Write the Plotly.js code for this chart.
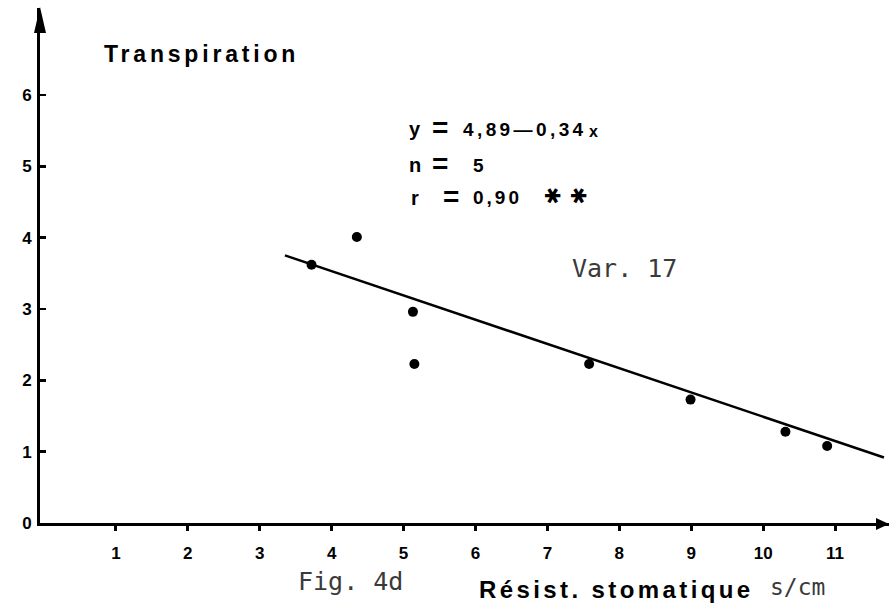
<!DOCTYPE html>
<html>
<head>
<meta charset="utf-8">
<script src="https://cdn.plot.ly/plotly-3.0.1.min.js"></script>
<style>
  html, body { margin: 0; padding: 0; background: #fff; }
  #chart { width: 889px; height: 606px; }
</style>
</head>
<body>
<div id="chart"></div>
<script>
// Transpiration vs stomatal resistance, variety 17 (Fig. 4d)
const resistance    = [3.72, 4.35, 5.13, 5.15, 7.58, 8.99, 10.31, 10.89];
const transpiration = [3.62, 4.01, 2.96, 2.23, 2.23, 1.73, 1.28, 1.08];

// Regression y = 4,89 - 0,34 x, drawn over this span of x
const fitIntercept = 4.89;
const fitSlope = -0.34;
const fitSpan = [3.35, 11.68];

const xTickVals = [1, 2, 3, 4, 5, 6, 7, 8, 9, 10, 11];
const xTickText = ['1', '2', '3', '4', '5', '6', '7', '8', '9', '10', '11'];
const yTickVals = [0, 1, 2, 3, 4, 5, 6];
const yTickText = ['0', '1', '2', '3', '4', '5', '6'];

const fitX = fitSpan.slice();
const fitY = fitX.map(x => fitIntercept + fitSlope * x);

// plot box geometry (pixels)
const W = 889, H = 606;
const M = { l: 40, r: 0, t: 8, b: 83 };
const PW = W - M.l - M.r, PH = H - M.t - M.b;
const px = x => (x - M.l) / PW;           // pixel -> paper x
const py = y => (H - M.b - y) / PH;       // pixel -> paper y

const BOLD = 'Liberation Sans, Arial, sans-serif';
const MONO = 'DejaVu Sans Mono, monospace';
const GREY = '#3a3a3a';

function label(text, left, cy, size, family, extra) {
  return Object.assign({
    text: text, xref: 'paper', yref: 'paper', x: px(left), y: py(cy),
    xanchor: 'left', yanchor: 'middle', showarrow: false,
    font: { family: family, size: size, color: family === MONO ? GREY : '#000',
            weight: family === BOLD ? 'bold' : 'normal' }
  }, extra || {});
}
const sp = (s, ls) => '<span style="letter-spacing:' + ls + 'px">' + s + '</span>';

const annotations = [
  label(sp('Transpiration', 3.8), 102, 54, 23, BOLD),
  // regression statistics
  label('y', 407, 129, 20, BOLD),
  label('=', 430, 127, 28, BOLD),
  label(sp('4,89—0,34', 3.4), 461, 129, 19, BOLD),
  label('x', 587, 131, 16, BOLD),
  label('n', 407, 165, 20, BOLD),
  label('=', 430, 163, 28, BOLD),
  label('5', 471, 165, 19, BOLD),
  label('r', 409, 198, 20, BOLD),
  label('=', 441, 196, 28, BOLD),
  label(sp('0,90', 3), 471, 198, 19, BOLD),
  label('✱', 538, 196, 21, 'DejaVu Sans', { textangle: 90 }),
  label('✱', 564, 196, 21, 'DejaVu Sans', { textangle: 90 }),
  label('Var. 17', 570, 268, 25, MONO),
  label('Fig. 4d', 296, 581, 25, MONO),
  label(sp('Résist. stomatique', 3.4), 477, 589, 24, BOLD),
  label('s/cm', 768, 587, 23, MONO)
];

// arrow heads at the ends of both axes
const shapes = [
  { type: 'path', xref: 'paper', yref: 'paper',
    path: `M${px(40)},${py(7)} L${px(34)},${py(33)} L${px(46)},${py(33)} Z`,
    fillcolor: '#000', line: { width: 0 } },
  { type: 'path', xref: 'paper', yref: 'paper',
    path: `M${px(889)},${py(524)} L${px(876)},${py(518)} L${px(876)},${py(530)} Z`,
    fillcolor: '#000', line: { width: 0 } }
];

const traces = [
  { x: fitX, y: fitY, type: 'scatter', mode: 'lines',
    line: { color: '#000', width: 2.5 }, hoverinfo: 'skip', cliponaxis: false },
  { x: resistance, y: transpiration, type: 'scatter', mode: 'markers',
    marker: { color: '#000', size: 10 }, cliponaxis: false }
];

const layout = {
  width: W, height: H, margin: M,
  paper_bgcolor: '#fff', plot_bgcolor: '#fff',
  showlegend: false,
  xaxis: {
    range: [-0.056, 11.75], showgrid: false, zeroline: false,
    showline: true, linecolor: '#000', linewidth: 3,
    tickmode: 'array', tickvals: xTickVals, ticktext: xTickText,
    ticks: 'outside', ticklen: 5, tickwidth: 3, tickcolor: '#000',
    ticklabelstandoff: 8,
    tickfont: { family: BOLD, size: 17, color: '#000', weight: 'bold' }
  },
  yaxis: {
    range: [0, 7.22], showgrid: false, zeroline: false,
    showline: true, linecolor: '#000', linewidth: 3,
    tickmode: 'array', tickvals: yTickVals, ticktext: yTickText,
    ticks: 'inside', ticklen: 6, tickwidth: 2.5, tickcolor: '#000',
    ticklabelstandoff: 2,
    tickfont: { family: BOLD, size: 17, color: '#000', weight: 'bold' }
  },
  annotations: annotations,
  shapes: shapes
};

Plotly.newPlot('chart', traces, layout, { staticPlot: true, displayModeBar: false });
</script>
</body>
</html>
